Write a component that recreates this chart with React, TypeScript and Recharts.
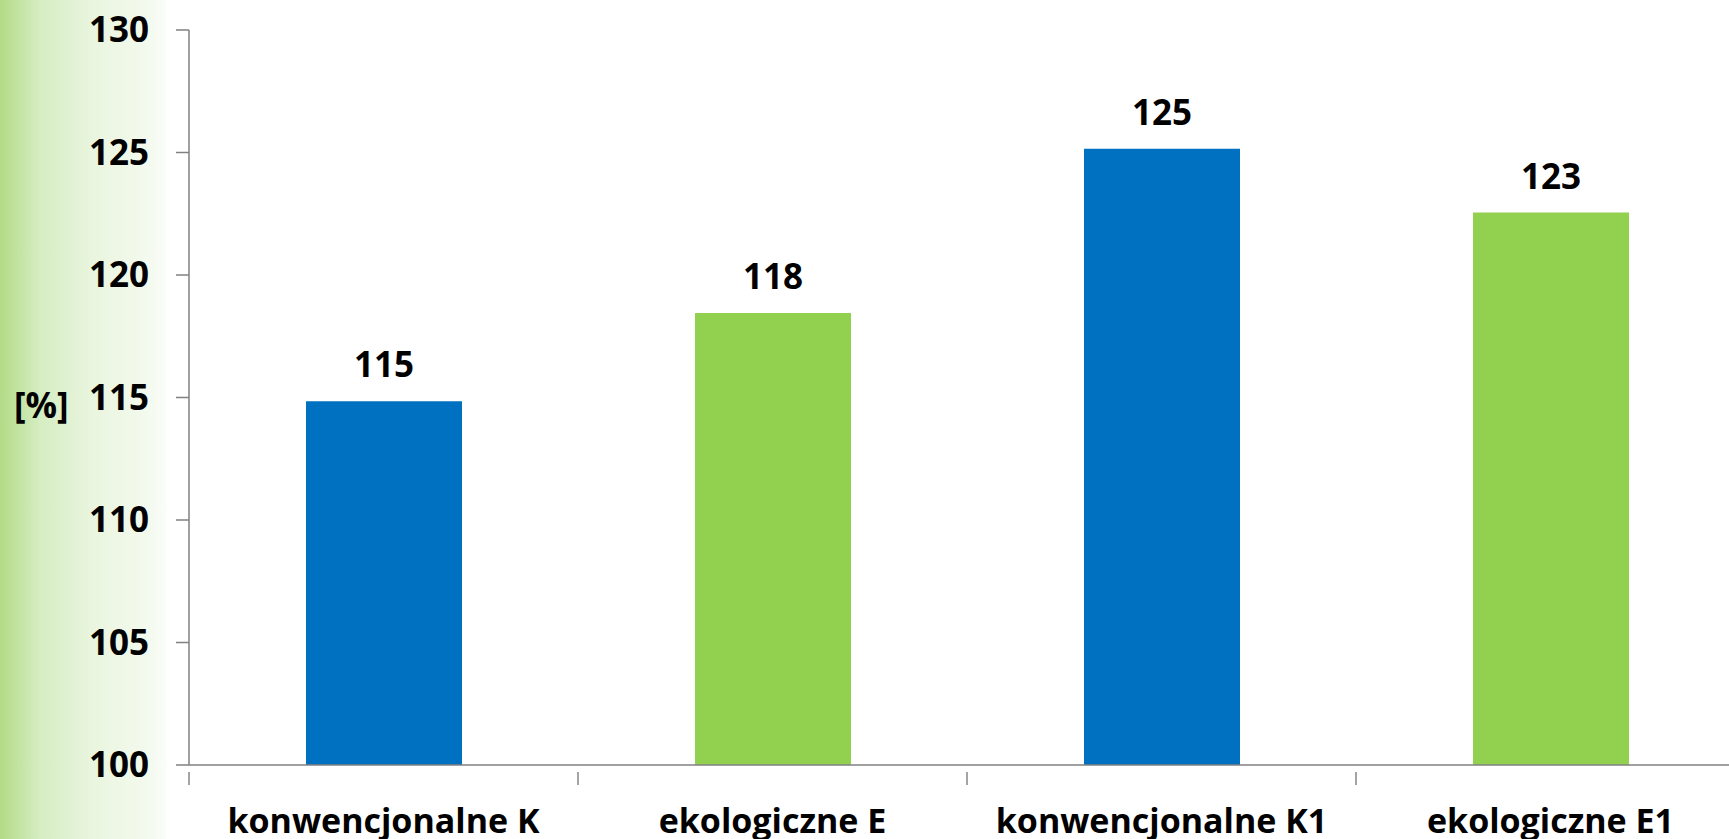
import React from "react";
import { BarChart, Bar, XAxis, YAxis, Cell, LabelList, Label } from "recharts";

const categories = ["konwencjonalne K", "ekologiczne E", "konwencjonalne K1", "ekologiczne E1"];
const values = [114.85, 118.45, 125.15, 122.55];
const barColors = ["#0070C0", "#92D050", "#0070C0", "#92D050"];
const yTicks = [100, 105, 110, 115, 120, 125, 130];

const data = categories.map((name, i) => ({ name, value: values[i] }));

const CHART_W = 1745;
const CHART_H = 839;
const LEFT = 189;
const BAND = (CHART_W - LEFT) / categories.length;
const FONT = "'Open Sans', 'DejaVu Sans', sans-serif";

function CategoryTick(props: any) {
  const { x, y, payload, index } = props;
  const left = x - BAND / 2;
  return (
    <g>
      <line x1={left} y1={y - 1} x2={left} y2={y + 12} stroke="#868686" strokeWidth={1.5} />
      {index === categories.length - 1 && (
        <line x1={x + BAND / 2} y1={y - 1} x2={x + BAND / 2} y2={y + 12} stroke="#868686" strokeWidth={1.5} />
      )}
      <text x={x} y={y + 60} textAnchor="middle" fill="#000" fontFamily={FONT} fontWeight={700} fontSize={34}>
        {payload.value}
      </text>
    </g>
  );
}

export default function App() {
  return (
    <div
      style={{
        position: "absolute",
        left: 0,
        top: 0,
        width: 1729,
        height: 839,
        overflow: "hidden",
        background:
          "linear-gradient(to right, #b3db86 0px, #d5edc2 40px, #e9f5de 90px, #f4faef 150px, #fbfdf9 166px, #ffffff 168px)",
      }}
    >
      <BarChart
        width={CHART_W}
        height={CHART_H}
        data={data}
        margin={{ top: 30, right: 0, left: 0, bottom: 0 }}
        barSize={156}
      >
        <XAxis
          dataKey="name"
          height={74}
          stroke="#808080"
          strokeWidth={1.5}
          tickLine={false}
          tick={<CategoryTick />}
          interval={0}
        />
        <YAxis
          width={LEFT}
          domain={[100, 130]}
          ticks={yTicks}
          allowDataOverflow
          stroke="#808080"
          strokeWidth={1.5}
          tickSize={13}
          tickMargin={27}
          tick={{ fill: "#000", fontFamily: FONT, fontWeight: 700, fontSize: 35 }}
        >
          <Label
            value="[%]"
            position="insideLeft"
            offset={14}
            dy={8}
            style={{ fill: "#000", fontFamily: FONT, fontWeight: 700, fontSize: 35 }}
          />
        </YAxis>
        <Bar dataKey="value" isAnimationActive={false}>
          {data.map((d, i) => (
            <Cell key={d.name} fill={barColors[i]} />
          ))}
          <LabelList
            dataKey="value"
            position="top"
            offset={24}
            formatter={(v: any) => Math.round(v as number)}
            style={{ fill: "#000", fontFamily: FONT, fontWeight: 700, fontSize: 35 }}
          />
        </Bar>
      </BarChart>
    </div>
  );
}
